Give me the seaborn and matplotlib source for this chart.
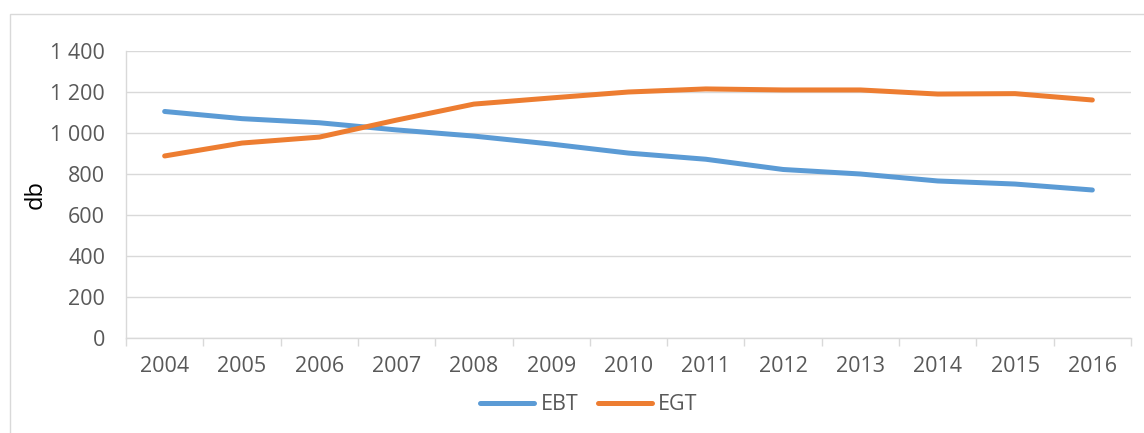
import pandas as pd
import seaborn as sns
import matplotlib.pyplot as plt
from matplotlib.patches import Rectangle
from matplotlib.ticker import FuncFormatter, FixedLocator

# data
years = [2004, 2005, 2006, 2007, 2008, 2009, 2010, 2011, 2012, 2013, 2014, 2015, 2016]
ebt = [1105, 1070, 1050, 1015, 985, 946, 902, 872, 822, 800, 766, 751, 722]
egt = [888, 951, 980, 1063, 1141, 1171, 1200, 1215, 1210, 1210, 1190, 1192, 1161]
series_names = ['EBT', 'EGT']
y_label = 'db'

df = pd.DataFrame({'year': years * 2,
                   'value': ebt + egt,
                   'series': [series_names[0]] * len(years) + [series_names[1]] * len(years)})

sns.set_style('white')
plt.rcParams['font.family'] = ['Open Sans', 'DejaVu Sans']

grid_col = '#D9D9D9'
text_col = '#595959'
fs = 15.5

fig = plt.figure(figsize=(11.44, 4.33), dpi=100)
ax = fig.add_axes([126 / 1144, 1 - 338 / 433, 1005 / 1144, 287 / 433])

sns.lineplot(data=df, x='year', y='value', hue='series',
             palette={'EBT': '#5B9BD5', 'EGT': '#ED7D31'},
             linewidth=3.6, ax=ax, legend=True)
for ln in ax.lines:
    ln.set_solid_capstyle('round')

ax.set_xlim(years[0] - 0.5, years[-1] + 0.5)
ax.set_ylim(0, 1400)
ax.set_yticks(range(0, 1401, 200))
ax.yaxis.set_major_formatter(FuncFormatter(lambda v, p: f'{int(v):,}'.replace(',', ' ')))
ax.set_xticks(years)
ax.set_xticklabels([str(y) for y in years])
ax.xaxis.set_minor_locator(FixedLocator([y + 0.5 for y in [years[0] - 1] + years]))

ax.grid(axis='y', color=grid_col, linewidth=1.0)
ax.set_axisbelow(True)
for side in ['top', 'right']:
    ax.spines[side].set_visible(False)
for side in ['left', 'bottom']:
    ax.spines[side].set_color(grid_col)
    ax.spines[side].set_linewidth(1.0)

ax.tick_params(axis='y', which='major', length=6, width=1.0, color=grid_col,
               labelsize=fs, labelcolor=text_col, pad=9)
ax.tick_params(axis='x', which='major', length=0, labelsize=fs, labelcolor=text_col, pad=13)
ax.tick_params(axis='x', which='minor', length=6, width=1.0, color=grid_col, bottom=True)

ax.set_xlabel('')
ax.set_ylabel(y_label, fontsize=17, color='black')
ax.yaxis.set_label_coords(-0.078, 0.5)

handles, labels = ax.get_legend_handles_labels()
ax.get_legend().remove()
leg = fig.legend(handles, labels, loc='center', bbox_to_anchor=(589 / 1144, 1 - 405 / 433),
                 ncol=2, frameon=False, fontsize=fs, handlelength=2.5,
                 columnspacing=0.9, handletextpad=0.3)
for t in leg.get_texts():
    t.set_color(text_col)
for h in leg.legend_handles:
    h.set_linewidth(3.6)
    h.set_solid_capstyle('round')

# chart area border (extends past the right and bottom edges)
fig.patches.append(Rectangle((10 / 1144, -0.1), 1.2, 1 - 14 / 433 + 0.1,
                             transform=fig.transFigure, fill=False,
                             edgecolor=grid_col, linewidth=1.0))

fig.savefig('out.png', dpi=100)
